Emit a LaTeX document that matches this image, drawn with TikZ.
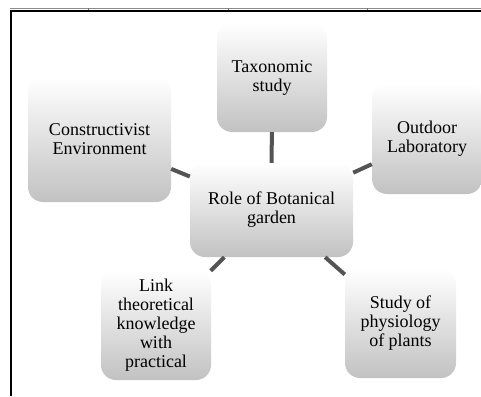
\documentclass[tikz,border=0pt]{standalone}
\usepackage{fontspec}
\setmainfont{Liberation Serif}
\begin{document}
\begin{tikzpicture}[x=1pt,y=-1pt,
  box/.style={rectangle, rounded corners=15pt, top color=white, bottom color=black!24,
    draw=none, align=center, inner sep=0pt,
    font=\fontsize{18}{19}\selectfont},
  link/.style={draw=black!67, line width=4pt}]
\useasboundingbox (0,0) rectangle (481,396);
\fill[white] (0,0) rectangle (481,396);
% frame
\draw[black!45, line width=0.8pt] (10,8.9) -- (481,8.9);
\foreach \xx in {88,228,367} \draw[black!55, line width=0.6pt] (\xx,8) -- (\xx,10.5);
\draw[black, line width=2pt] (11,396) -- (11,10.8) -- (481,10.8);
% nodes
\node[box, minimum width=110pt, minimum height=109pt] (tax) at (272,77.5) {Taxonomic\\study};
\node[box, minimum width=143pt, minimum height=125pt] (con) at (99.5,139.5) {Constructivist\\Environment};
\node[box, minimum width=110pt, minimum height=110pt] (out) at (427,139) {Outdoor\\Laboratory};
\node[box, minimum width=163pt, minimum height=94pt] (cen) at (271.5,210) {Role of Botanical\\garden};
\node[box, minimum width=110pt, minimum height=109pt] (lnk) at (156,325.5) {Link\\theoretical\\knowledge\\with\\practical};
\node[box, minimum width=111pt, minimum height=109pt] (stu) at (400.5,323.5) {Study of\\physiology\\of plants};
% connectors
\draw[link] (cen) -- (tax);
\draw[link] (cen) -- (con);
\draw[link] (cen) -- (out);
\draw[link] (cen) -- (lnk);
\draw[link] (cen) -- (stu);
\end{tikzpicture}
\end{document}
